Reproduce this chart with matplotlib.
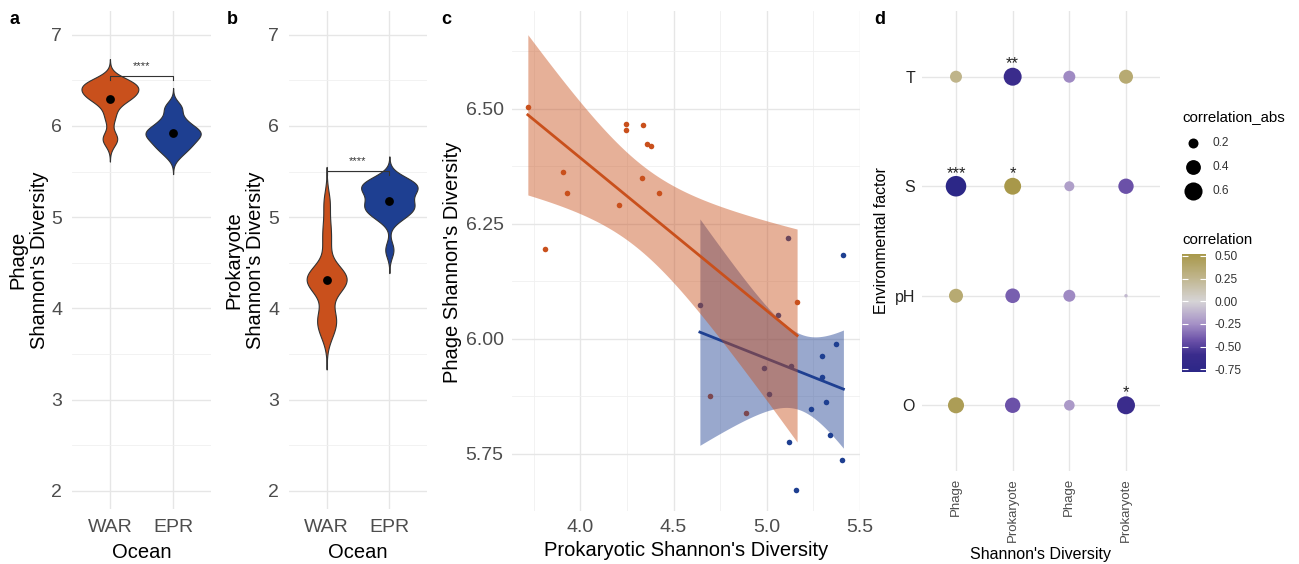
import numpy as np
import matplotlib.pyplot as plt
from matplotlib.colors import LinearSegmentedColormap, Normalize
from matplotlib.cm import ScalarMappable

plt.rcParams['font.family'] = ['Liberation Sans', 'DejaVu Sans']

oceans = ['WAR', 'EPR']
war_prok = [3.718, 3.811, 3.909, 3.930, 4.209, 4.245, 4.245, 4.329, 4.3375,
            4.359, 4.380, 4.421, 5.1625, 4.695, 4.890]
war_phage = [6.504, 6.195, 6.3625, 6.316, 6.291, 6.468, 6.453, 6.349, 6.465,
             6.423, 6.420, 6.316, 6.080, 5.876, 5.838]
epr_prok = [4.641, 4.9875, 5.014, 5.061, 5.116, 5.132, 5.120, 5.157, 5.239,
            5.298, 5.298, 5.316, 5.341, 5.371, 5.405, 5.411]
epr_phage = [6.073, 5.936, 5.880, 6.052, 6.218, 5.941, 5.775, 5.670, 5.848,
             5.963, 5.917, 5.8625, 5.790, 5.989, 5.737, 6.183]
signif_ab = ['****', '****']

# ---- correlaciones (panel d) ----
factors = ['O', 'pH', 'S', 'T']
diversity = ['Phage', 'Prokaryote', 'Phage', 'Prokaryote']
corr_O = [0.47, -0.43, -0.22, -0.59]
corr_pH = [0.36, -0.39, -0.27, -0.10]
corr_S = [-0.78, 0.52, -0.20, -0.43]
corr_T = [0.27, -0.59, -0.27, 0.36]
stars_O = ['', '', '', '*']
stars_pH = ['', '', '', '']
stars_S = ['***', '*', '', '']
stars_T = ['', '**', '', '']
size_breaks = [0.2, 0.4, 0.6]
color_breaks = [0.50, 0.25, 0.00, -0.25, -0.50, -0.75]

col = ['#C9501C', '#1E3F91']
grid_c = '#E6E6E6'
tick_c = '#4D4D4D'
T95 = {13: 2.1604, 14: 2.1448}

W, H = 1299, 564
fig = plt.figure(figsize=(W / 100, H / 100), dpi=100)


def px_axes(x0, y0, x1, y1):
    return fig.add_axes([x0 / W, 1 - y1 / H, (x1 - x0) / W, (y1 - y0) / H])


def px_text(x, y, s, **kw):
    fig.text(x / W, 1 - y / H, s, ha='center', va='center', **kw)


def minimal(ax, fs=14, pad=6):
    for sp in ax.spines.values():
        sp.set_visible(False)
    ax.tick_params(length=0, labelsize=fs, labelcolor=tick_c, pad=pad)
    ax.set_axisbelow(True)


def kde(v):
    v = np.asarray(v)
    n = len(v)
    q75, q25 = np.percentile(v, [75, 25])
    bw = 0.9 * min(v.std(ddof=1), (q75 - q25) / 1.34) * n ** -0.2
    y = np.linspace(v.min() - 3 * bw, v.max() + 3 * bw, 512)
    d = np.exp(-0.5 * ((y[:, None] - v[None, :]) / bw) ** 2).sum(1) / (n * bw * np.sqrt(2 * np.pi))
    return y, d


def violin_panel(ax, groups, sig, ybr):
    dens = [kde(g) for g in groups]
    dmax = max(d.max() for _, d in dens)
    for i, ((y, d), g) in enumerate(zip(dens, groups)):
        w = d / dmax * 0.45
        ax.fill_betweenx(y, i + 1 - w, i + 1 + w, facecolor=col[i],
                         edgecolor='#333333', lw=0.8, zorder=3)
        ax.scatter(i + 1, np.mean(g), s=40, color='black', zorder=4, lw=0)
    ax.plot([1, 1, 2, 2], [ybr - 0.045, ybr, ybr, ybr - 0.045], color='#333333', lw=0.8, zorder=5)
    ax.text(1.5, ybr + 0.075, sig, ha='center', va='baseline', fontsize=8, color='#333333')
    ax.set_xlim(0.4, 2.6)
    ax.set_ylim(1.80, 7.26)
    ax.set_xticks([1, 2])
    ax.set_xticklabels(oceans)
    ax.set_yticks([2, 3, 4, 5, 6, 7])
    ax.set_yticks(np.arange(2.5, 7.0, 1.0), minor=True)
    ax.grid(True, which='major', color=grid_c, lw=1.0)
    ax.grid(True, which='minor', axis='y', color='#F0F0F0', lw=0.6)
    minimal(ax, fs=14, pad=7)
    ax.tick_params(which='minor', length=0)


# ---- a y b ----
ax_a = px_axes(72, 11, 211, 509)
violin_panel(ax_a, [war_phage, epr_phage], signif_ab[0], 6.545)
ax_b = px_axes(289, 11, 427, 509)
violin_panel(ax_b, [war_prok, epr_prok], signif_ab[1], 5.506)

px_text(28.5, 260, "Phage\nShannon's Diversity", rotation=90, fontsize=14.5, linespacing=1.15)
px_text(245, 260, "Prokaryote\nShannon's Diversity", rotation=90, fontsize=14.5, linespacing=1.15)
px_text(141.5, 552, 'Ocean', fontsize=14.5)
px_text(358, 552, 'Ocean', fontsize=14.5)


# ---- c ----
def lm_band(x, y):
    x = np.asarray(x)
    y = np.asarray(y)
    n = len(x)
    b, a = np.polyfit(x, y, 1)
    xs = np.linspace(x.min(), x.max(), 80)
    yh = a + b * xs
    s = np.sqrt(np.sum((y - (a + b * x)) ** 2) / (n - 2))
    se = s * np.sqrt(1 / n + (xs - x.mean()) ** 2 / np.sum((x - x.mean()) ** 2))
    t = T95[n - 2]
    return xs, yh, yh - t * se, yh + t * se


ax_c = px_axes(512, 11, 860, 511)
ax_c.scatter(war_prok, war_phage, s=16, color=col[0], lw=0, zorder=3)
ax_c.scatter(epr_prok, epr_phage, s=16, color=col[1], lw=0, zorder=3)
z = 4
for xv, yv, c in [(epr_prok, epr_phage, col[1]), (war_prok, war_phage, col[0])]:
    xs, yh, lo, hi = lm_band(xv, yv)
    ax_c.fill_between(xs, lo, hi, color=c, alpha=0.45, lw=0, zorder=z)
    ax_c.plot(xs, yh, color=c, lw=2.0, zorder=z + 1)
    z += 2
ax_c.set_xlim(3.633, 5.496)
ax_c.set_ylim(5.626, 6.713)
ax_c.set_xticks([4.0, 4.5, 5.0, 5.5])
ax_c.set_xticks([3.75, 4.25, 4.75, 5.25], minor=True)
ax_c.set_yticks([5.75, 6.00, 6.25, 6.50])
ax_c.set_yticks([5.625, 5.875, 6.125, 6.375, 6.625], minor=True)
ax_c.set_yticklabels(['5.75', '6.00', '6.25', '6.50'])
ax_c.grid(True, which='major', color=grid_c, lw=1.0)
ax_c.grid(True, which='minor', color='#F0F0F0', lw=0.6)
minimal(ax_c, fs=14, pad=6)
ax_c.tick_params(which='minor', length=0)
px_text(452, 262, "Phage Shannon's Diversity", rotation=90, fontsize=14.5)
px_text(686, 550, "Prokaryotic Shannon's Diversity", fontsize=14.5)

# ---- d ----
corr_rows = [corr_O, corr_pH, corr_S, corr_T]
star_rows = [stars_O, stars_pH, stars_S, stars_T]
allc = np.array(corr_rows)
vmin, vmax = allc.min(), allc.max()
amin, amax = np.abs(allc).min(), np.abs(allc).max()
norm = Normalize(vmin, vmax)
stops = [(-0.78, '#2C2787'), (-0.59, '#3A2C8C'), (-0.43, '#6C52A9'), (-0.25, '#A591C6'),
         (0.00, '#D6D4D6'), (0.27, '#BFB48A'), (0.52, '#A8984A')]
cmap = LinearSegmentedColormap.from_list(
    'corr', [((v - vmin) / (vmax - vmin), c) for v, c in stops])


def dot_size(v):
    # area_pal tipo ggplot: diametro ~ 1 + 5*sqrt(t)
    t = np.clip((np.abs(np.asarray(v, dtype=float)) - amin) / (amax - amin), 0, 1)
    r = 1.712 * (1 + 5 * np.sqrt(t))
    return (2 * r * 0.72) ** 2


ax_d = px_axes(922, 11, 1160, 471)
for j, (row, st) in enumerate(zip(corr_rows, star_rows)):
    xs = np.arange(1, len(row) + 1)
    ax_d.scatter(xs, [j + 1] * len(row), s=dot_size(row), c=row, cmap=cmap, norm=norm,
                 lw=0, zorder=3)
    for x, s in zip(xs, st):
        if s:
            ax_d.annotate(s, (x, j + 1), xytext=(0, 6), textcoords='offset points',
                          ha='center', va='baseline', fontsize=12, color='#222222')
ax_d.set_xlim(0.4, 4.6)
ax_d.set_ylim(0.4, 4.6)
ax_d.set_xticks(range(1, 5))
ax_d.set_xticklabels(diversity, rotation=90)
ax_d.set_yticks(range(1, 5))
ax_d.set_yticklabels(factors)
ax_d.grid(True, color=grid_c, lw=1.0)
minimal(ax_d, fs=11.5, pad=5)
ax_d.tick_params(axis='x', labelsize=9.5)
ax_d.tick_params(axis='y', labelcolor='#222222')
px_text(881, 241, 'Environmental factor', rotation=90, fontsize=11.5)
px_text(1041, 554, "Shannon's Diversity", fontsize=11.5)

# leyenda de tamaño
ax_l = fig.add_axes([0, 0, 1, 1], facecolor='none')
ax_l.set_xlim(0, W)
ax_l.set_ylim(H, 0)
ax_l.axis('off')
for k, b in enumerate(size_breaks):
    yy = 143 + k * 23.8
    ax_l.scatter(1193, yy, s=dot_size(b), color='black', lw=0)
    ax_l.text(1213, yy, f'{b:.1f}', va='center', fontsize=8.6, color='#333333')
ax_l.text(1182, 117, 'correlation_abs', va='center', fontsize=10.8)
ax_l.text(1182, 240, 'correlation', va='center', fontsize=10.8)

# barra de color
cax = px_axes(1182, 254, 1206, 372)
cb = fig.colorbar(ScalarMappable(norm=norm, cmap=cmap), cax=cax)
cb.outline.set_visible(False)
cb.set_ticks(color_breaks)
cb.set_ticklabels([f'{v:.2f}' for v in color_breaks])
cax.yaxis.set_ticks_position('both')
cax.tick_params(axis='y', direction='in', length=4, color='white', width=0.8,
                labelsize=8.6, labelcolor='#333333', pad=6, labelleft=False, labelright=True)

# letras de panel
for x, lab in [(14, 'a'), (232, 'b'), (446, 'c'), (880, 'd')]:
    px_text(x, 19, lab, fontsize=13, fontweight='bold')

fig.savefig('out.png', dpi=100)
